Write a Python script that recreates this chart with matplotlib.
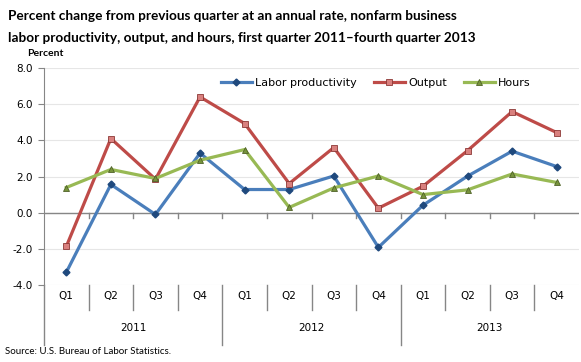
import matplotlib
matplotlib.use("Agg")
import matplotlib.pyplot as plt
import matplotlib.transforms as mtransforms

quarters = ["Q1", "Q2", "Q3", "Q4"] * 3
years = ["2011", "2012", "2013"]
labor_productivity = [-3.3, 1.56, -0.1, 3.29, 1.28, 1.28, 2.03, -1.92, 0.41, 2.02, 3.4, 2.55]
output = [-1.87, 4.1, 1.85, 6.4, 4.93, 1.61, 3.6, 0.25, 1.46, 3.43, 5.59, 4.43]
hours = [1.39, 2.39, 1.89, 2.9, 3.49, 0.29, 1.37, 2.03, 1.0, 1.26, 2.14, 1.67]
yticks = [-4.0, -2.0, 0.0, 2.0, 4.0, 6.0, 8.0]

fig = plt.figure(figsize=(5.81, 3.62), dpi=100)
ax = fig.add_axes([44/581, 1-285/362, (579-44)/581, (285-68)/362])

x = list(range(len(quarters)))
blue, red, green = "#4A7EBB", "#BE4B48", "#98B954"
ax.plot(x, labor_productivity, color=blue, lw=2.3, marker="D", ms=3.5,
        mfc="#1F497D", mec="#1F497D", label="Labor productivity", zorder=3)
ax.plot(x, output, color=red, lw=2.3, marker="s", ms=5,
        mfc="#D9807E", mec="#8C3836", mew=0.6, label="Output", zorder=3)
ax.plot(x, hours, color=green, lw=2.3, marker="^", ms=5,
        mfc="#77933C", mec="#4F6228", mew=0.6, label="Hours", zorder=3)

ax.set_xlim(-0.5, len(x) - 0.5)
ax.set_ylim(-4, 8)
ax.set_yticks(yticks)
ax.set_yticklabels([f"{v:.1f}" for v in yticks], fontsize=7.5, family="DejaVu Sans")
ax.tick_params(axis="y", length=4, color="#868686", pad=4)
ax.set_xticks([])
for s in ["top", "right", "bottom"]:
    ax.spines[s].set_visible(False)
ax.spines["left"].set_color("#868686")
ax.grid(axis="y", color="#E6E6E6", lw=0.8, zorder=0)
ax.set_axisbelow(True)

# zero line and ticks
ax.axhline(0, color="#868686", lw=1, zorder=2)
for b in range(len(x) - 1):
    bx = b + 0.5
    ax.plot([bx, bx], [0, -0.28], color="#868686", lw=1, zorder=2, clip_on=False)

# category axis at bottom
tr = mtransforms.blended_transform_factory(ax.transData, ax.transAxes)
ax.plot([-0.5, -0.5], [0, -60/217], color="#868686", lw=1, transform=tr, clip_on=False)
for b in range(1, len(x)):
    bx = b - 0.5
    depth = -60/217 if b % 4 == 0 else -25/217
    ax.plot([bx, bx], [0, depth], color="#868686", lw=1, transform=tr, clip_on=False)
for i, q in enumerate(quarters):
    ax.text(i, -11/217, q, transform=tr, ha="center", va="center", fontsize=7.5,
            family="DejaVu Sans")
for j, yv in enumerate(years):
    ax.text(4*j + 1.5, -43/217, yv, transform=tr, ha="center", va="center",
            fontsize=7.5, family="DejaVu Sans")

leg = ax.legend(loc="upper center", bbox_to_anchor=(0.62, 1.0), ncol=3, frameon=False,
                handlelength=2.8, columnspacing=1.5, handletextpad=0.3,
                prop={"family": "DejaVu Sans", "size": 8})

fig.text(8/581, 1-16/362, "Percent change from previous quarter at an annual rate, nonfarm business",
         fontsize=9.8, fontweight="bold", family="Lato", va="center", ha="left")
fig.text(8/581, 1-38/362, "labor productivity, output, and hours, first quarter 2011\u2013fourth quarter 2013",
         fontsize=9.8, fontweight="bold", family="Lato", va="center", ha="left")
fig.text(27/581, 1-53/362, "Percent", fontsize=7.5, fontweight="bold", family="Lato",
         va="center", ha="left")
fig.text(5/581, 1-351/362, "Source: U.S. Bureau of Labor Statistics.", fontsize=7,
         family="Lato", va="center", ha="left")

fig.savefig("out.png", dpi=100)
